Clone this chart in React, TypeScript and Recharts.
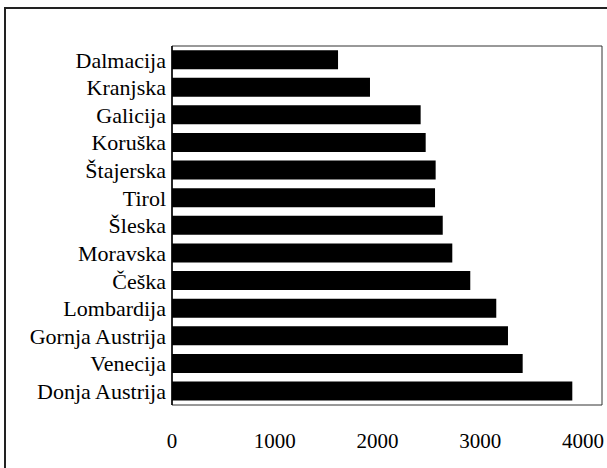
import { BarChart, Bar, XAxis, YAxis, ReferenceArea } from 'recharts';

const regions = [
  'Dalmacija',
  'Kranjska',
  'Galicija',
  'Koruška',
  'Štajerska',
  'Tirol',
  'Šleska',
  'Moravska',
  'Češka',
  'Lombardija',
  'Gornja Austrija',
  'Venecija',
  'Donja Austrija',
];
const values = [1616, 1927, 2420, 2469, 2566, 2560, 2635, 2728, 2903, 3156, 3270, 3413, 3896];
const xTicks = [0, 1000, 2000, 3000, 4000];
const xMax = 4185;

const data = regions.map((name, i) => ({ name, value: values[i] }));

const font = '"Liberation Serif", "Times New Roman", serif';

export default function App() {
  return (
    <div style={{ position: 'fixed', left: 0, top: 0, width: 607, height: 468, overflow: 'hidden', background: '#fff' }}>
      <div style={{ position: 'absolute', left: 0, top: 0 }}>
        <BarChart
          width={607}
          height={468}
          data={data}
          layout="vertical"
          margin={{ top: 46, right: 5, bottom: 0, left: 0 }}
          barCategoryGap="15%"
        >
          <XAxis
            type="number"
            domain={[0, xMax]}
            ticks={xTicks}
            allowDataOverflow
            axisLine={false}
            tickLine={false}
            tickSize={0}
            tickMargin={28}
            height={63}
            tick={{ fill: '#000', fontSize: 21, fontFamily: font }}
          />
          <YAxis
            type="category"
            dataKey="name"
            width={172}
            axisLine={{ stroke: '#000', strokeWidth: 1.5 }}
            tickLine={false}
            tickSize={0}
            tickMargin={6}
            interval={0}
            tick={{ fill: '#000', fontSize: 22, fontFamily: font }}
          />
          <ReferenceArea x1={0} x2={xMax} fill="none" stroke="#333" strokeWidth={1} />
          <Bar dataKey="value" fill="#000" isAnimationActive={false} />
        </BarChart>
      </div>
      <div style={{ position: 'absolute', left: 4, top: 7, width: 2, height: 470, background: '#222' }} />
      <div style={{ position: 'absolute', left: 4, top: 7, width: 610, height: 2, background: '#222' }} />
    </div>
  );
}
